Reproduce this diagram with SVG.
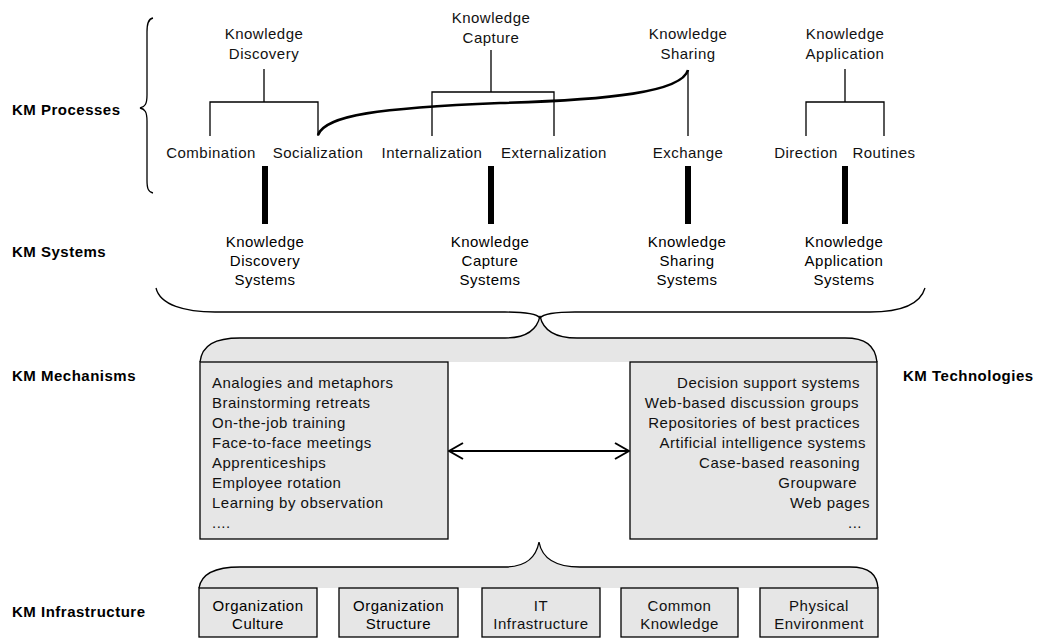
<svg xmlns="http://www.w3.org/2000/svg" width="1045" height="638" viewBox="0 0 1045 638">
<style>
text{font-family:"Liberation Sans",Arial,Helvetica,sans-serif;font-size:15px;letter-spacing:0.5px;fill:#111}
.c{text-anchor:middle}
.b{font-weight:bold;fill:#000}
.sys{fill:#000}
.r{text-anchor:end}
.ln{fill:none;stroke:#000;stroke-width:1.3}
.thick{fill:none;stroke:#000;stroke-width:2.6}
.box{fill:#e6e6e6;stroke:#000;stroke-width:1.3}
.gray{fill:#e6e6e6;stroke:none}
.bar{fill:#000}
</style>
<defs>
<marker id="ah" viewBox="0 0 16 18" refX="15" refY="9" markerWidth="16" markerHeight="18" markerUnits="userSpaceOnUse" orient="auto-start-reverse">
<path d="M1,1 L15,9 L1,17" fill="none" stroke="#000" stroke-width="2"/>
</marker>
</defs>

<g id="labels">
<text class="b" x="12" y="115">KM Processes</text>
<text class="b" x="12" y="257">KM Systems</text>
<text class="b" x="12" y="381">KM Mechanisms</text>
<text class="b" x="903" y="381">KM Technologies</text>
<text class="b" x="12" y="617">KM Infrastructure</text>
</g>

<g id="process-brace">
<path class="ln" d="M153,18 C148,19 147,24 147,32 L147,95 C147,104 145,107 140,108 C145,109 147,112 147,121 L147,180 C147,188 148,192 153,193"/>
</g>

<g id="knowledge-discovery">
<text class="c" x="264" y="39">Knowledge</text>
<text class="c" x="264" y="59">Discovery</text>
</g>
<g id="knowledge-capture">
<text class="c" x="491" y="23">Knowledge</text>
<text class="c" x="491" y="43">Capture</text>
</g>
<g id="knowledge-sharing">
<text class="c" x="688" y="39">Knowledge</text>
<text class="c" x="688" y="59">Sharing</text>
</g>
<g id="knowledge-application">
<text class="c" x="845" y="39">Knowledge</text>
<text class="c" x="845" y="59">Application</text>
</g>

<g id="combination"><text class="c" x="211" y="158">Combination</text></g>
<g id="socialization"><text class="c" x="318" y="158">Socialization</text></g>
<g id="internalization"><text class="c" x="432" y="158">Internalization</text></g>
<g id="externalization"><text class="c" x="554" y="158">Externalization</text></g>
<g id="exchange"><text class="c" x="688" y="158">Exchange</text></g>
<g id="direction"><text class="c" x="806" y="158">Direction</text></g>
<g id="routines"><text class="c" x="884" y="158">Routines</text></g>

<g id="kd-systems">
<text class="c sys" x="265" y="247">Knowledge</text>
<text class="c sys" x="265" y="266">Discovery</text>
<text class="c sys" x="265" y="285">Systems</text>
</g>
<g id="kc-systems">
<text class="c sys" x="490" y="247">Knowledge</text>
<text class="c sys" x="490" y="266">Capture</text>
<text class="c sys" x="490" y="285">Systems</text>
</g>
<g id="ks-systems">
<text class="c sys" x="687" y="247">Knowledge</text>
<text class="c sys" x="687" y="266">Sharing</text>
<text class="c sys" x="687" y="285">Systems</text>
</g>
<g id="ka-systems">
<text class="c sys" x="844" y="247">Knowledge</text>
<text class="c sys" x="844" y="266">Application</text>
<text class="c sys" x="844" y="285">Systems</text>
</g>

<g id="connectors">
<path class="ln" d="M264,69 V102 M210,136 V102 H318 V136"/>
<path class="ln" d="M491,50 V92 M432,136 V92 H554 V136"/>
<path class="ln" d="M688,70 V136"/>
<path class="ln" d="M845,69 V102 M806,136 V102 H884 V136"/>
<path class="thick" d="M318,135 C325,115 380,108 500,103 C610,100 682,92 688,70"/>
<rect class="bar" x="262" y="166" width="6" height="58"/>
<rect class="bar" x="488" y="166" width="6" height="58"/>
<rect class="bar" x="685" y="166" width="6" height="58"/>
<rect class="bar" x="842" y="166" width="6" height="58"/>
<path class="ln" d="M156,288 C160,305 185,312 215,312 L505,312 C525,312 537,314 540,318 C543,314 555,312 575,312 L870,312 C900,312 920,305 925,288"/>
</g>

<g id="mechanisms-brace">
<path class="gray" d="M200,362 C202,345 215,338 240,338 L505,338 C525,338 537,330 540,316 C543,330 555,338 577,338 L845,338 C865,338 875,345 877,362 Z"/>
<path class="ln" d="M200,362 C202,345 215,338 240,338 L505,338 C525,338 537,330 540,316 C543,330 555,338 577,338 L845,338 C865,338 875,345 877,362"/>
</g>

<g id="km-mechanisms">
<rect class="box" x="200" y="362" width="248" height="177"/>
<text x="212" y="388">Analogies and metaphors</text>
<text x="212" y="408">Brainstorming retreats</text>
<text x="212" y="428">On-the-job training</text>
<text x="212" y="448">Face-to-face meetings</text>
<text x="212" y="468">Apprenticeships</text>
<text x="212" y="488">Employee rotation</text>
<text x="212" y="508">Learning by observation</text>
<text x="212" y="528">....</text>
</g>

<g id="km-technologies">
<rect class="box" x="630" y="362" width="247" height="177"/>
<text class="r" x="860" y="388">Decision support systems</text>
<text class="r" x="859" y="408">Web-based discussion groups</text>
<text class="r" x="860" y="428">Repositories of best practices</text>
<text class="r" x="866" y="448">Artificial intelligence systems</text>
<text class="r" x="860" y="468">Case-based reasoning</text>
<text class="r" x="857" y="488">Groupware</text>
<text class="r" x="870" y="508">Web pages</text>
<text class="r" x="862" y="528">...</text>
</g>

<g id="arrow">
<line x1="449" y1="451" x2="629" y2="451" stroke="#000" stroke-width="2" marker-start="url(#ah)" marker-end="url(#ah)"/>
</g>

<g id="infrastructure-brace">
<path class="gray" d="M199,588 C201,575 212,567 240,567 L505,567 C525,567 536,558 539,542 C542,558 555,567 580,567 L850,567 C870,567 877,575 878,588 Z"/>
<path class="ln" d="M199,588 C201,575 212,567 240,567 L505,567 C525,567 536,558 539,542 C542,558 555,567 580,567 L850,567 C870,567 877,575 878,588"/>
</g>

<g id="org-culture">
<rect class="box" x="199" y="588" width="118" height="49"/>
<text class="c sys" x="258" y="611">Organization</text>
<text class="c sys" x="258" y="629">Culture</text>
</g>
<g id="org-structure">
<rect class="box" x="339" y="588" width="119" height="49"/>
<text class="c sys" x="398.5" y="611">Organization</text>
<text class="c sys" x="398.5" y="629">Structure</text>
</g>
<g id="it-infrastructure">
<rect class="box" x="482" y="588" width="118" height="49"/>
<text class="c" x="541" y="611">IT</text>
<text class="c" x="541" y="629">Infrastructure</text>
</g>
<g id="common-knowledge">
<rect class="box" x="621" y="588" width="117" height="49"/>
<text class="c" x="679.5" y="611">Common</text>
<text class="c" x="679.5" y="629">Knowledge</text>
</g>
<g id="physical-environment">
<rect class="box" x="760" y="588" width="118" height="49"/>
<text class="c" x="819" y="611">Physical</text>
<text class="c" x="819" y="629">Environment</text>
</g>
</svg>
